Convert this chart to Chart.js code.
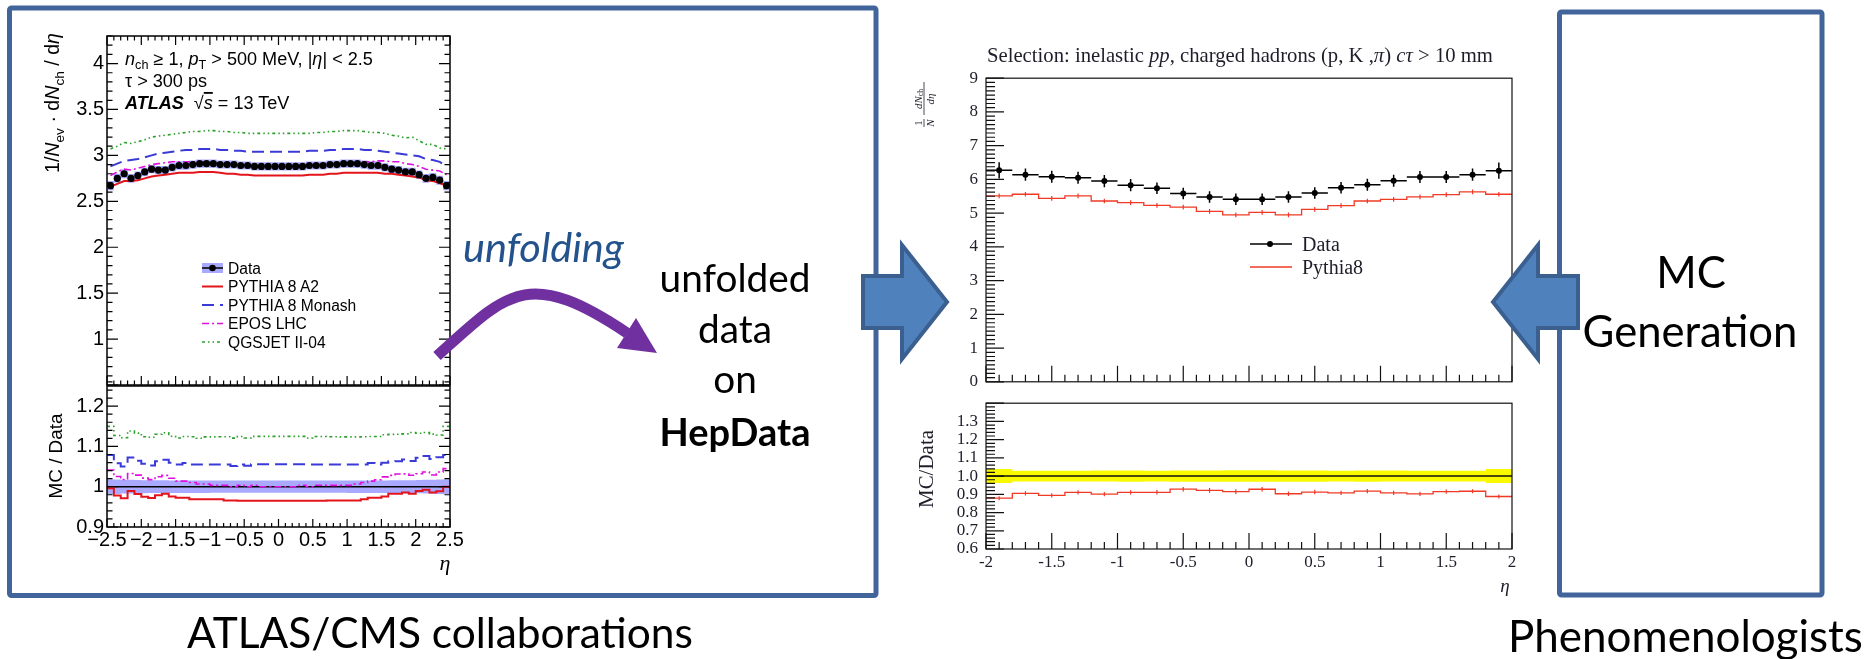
<!DOCTYPE html>
<html>
<head>
<meta charset="utf-8">
<title>Unfolded data and MC comparison</title>
<script src="https://cdn.jsdelivr.net/npm/chart.js@4.4.0/dist/chart.umd.min.js"></script>
<style>
  html, body { margin: 0; padding: 0; background: #fff; }
  body { width: 1870px; height: 659px; position: relative; overflow: hidden; }
  canvas { position: absolute; }
  #overlay { position: absolute; left: 0; top: 0; pointer-events: none; }
</style>
</head>
<body>
<canvas id="atlasTop" width="470" height="400" style="left:0px;top:0px"></canvas>
<canvas id="atlasRatio" width="470" height="190" style="left:0px;top:370px"></canvas>
<canvas id="rivetTop" width="640" height="340" style="left:900px;top:60px"></canvas>
<canvas id="rivetRatio" width="640" height="200" style="left:900px;top:385px"></canvas>

<svg id="overlay" width="1870" height="659" xmlns="http://www.w3.org/2000/svg">
  <!-- the two group boxes -->
  <g fill="none" stroke="#41659a" stroke-width="5">
    <rect x="9.5" y="8" width="866.5" height="587.5" rx="2"/>
    <rect x="1559.5" y="12" width="262.5" height="583" rx="2"/>
  </g>

  <!-- block arrows -->
  <g fill="#4f81bd" stroke="#3b6090" stroke-width="4">
    <polygon points="863,276 902,276 902,245 947,302 902,359 902,328 863,328"/>
    <polygon points="1493,302 1538,245 1538,276 1578,276 1578,328 1538,328 1538,359"/>
  </g>

  <!-- unfolding arrow -->
  <path d="M437,356 C507,293 527,266 627,333" stroke="#7030a0" stroke-width="11" fill="none"/>
  <polygon points="636,318 657,353 617,348" fill="#7030a0"/>

  <!-- slide text -->
  <g font-family="Lato, 'Open Sans', sans-serif" fill="#000">
    <text id="tUnfolding" x="463" y="262" font-size="36" font-style="italic" fill="#24528c">unfolding</text>
    <text id="tUnfolded" x="735" y="292" font-size="40" text-anchor="middle">unfolded</text>
    <text id="tData" x="735" y="343" font-size="40" text-anchor="middle">data</text>
    <text id="tOn" x="735" y="393" font-size="40" text-anchor="middle">on</text>
    <text id="tHep" x="735" y="446" font-size="40" text-anchor="middle" font-weight="bold">HepData</text>
    <text id="tMC" x="1691" y="288" font-size="44" text-anchor="middle">MC</text>
    <text id="tGen" x="1690" y="347" font-size="44" text-anchor="middle">Generation</text>
    <text id="tAtlasCms" x="187" y="648" font-size="44">ATLAS/CMS collaborations</text>
    <text id="tPheno" x="1508" y="652" font-size="44">Phenomenologists</text>
  </g>

  <!-- ATLAS panel labels -->
  <g font-family="'Liberation Sans', Arial, sans-serif" fill="#000">
    <text id="aLine1" x="125" y="65" font-size="18"><tspan font-style="italic">n</tspan><tspan font-size="70%" dy="0.35em">ch</tspan><tspan dy="-0.245em"> ≥ 1, </tspan><tspan font-style="italic">p</tspan><tspan font-size="70%" dy="0.35em">T</tspan><tspan dy="-0.245em"> &gt; 500 MeV, |</tspan><tspan font-style="italic">η</tspan>| &lt; 2.5</text>
    <text id="aLine2" x="125" y="87" font-size="18">τ &gt; 300 ps</text>
    <text id="aLine3" x="125" y="109" font-size="18"><tspan font-weight="bold" font-style="italic">ATLAS</tspan><tspan dx="0.55em">√</tspan><tspan font-style="italic" text-decoration="overline">s</tspan> = 13 TeV</text>
    <text id="aYTitle" transform="translate(59,103) rotate(-90)" text-anchor="middle" font-size="20">1/<tspan font-style="italic">N</tspan><tspan font-size="70%" dy="0.35em">ev</tspan><tspan dy="-0.245em"> · d</tspan><tspan font-style="italic">N</tspan><tspan font-size="70%" dy="0.35em">ch</tspan><tspan dy="-0.245em"> / d</tspan><tspan font-style="italic">η</tspan></text>
    <text id="aRTitle" transform="translate(62,456) rotate(-90)" text-anchor="middle" font-size="20">MC / Data</text>
    <g id="atlasLegend" font-size="15.6"></g>
  </g>
  <text x="445" y="570" font-family="'Liberation Serif', serif" font-style="italic" font-size="22" text-anchor="middle">η</text>

  <!-- Rivet panel labels -->
  <g font-family="'Liberation Serif', 'DejaVu Serif', serif" fill="#1e1e2a">
    <text id="rTitle" x="987" y="62" font-size="19">Selection: inelastic <tspan font-style="italic">pp</tspan>, charged hadrons (p, K ,<tspan font-style="italic">π</tspan>) <tspan font-style="italic">cτ</tspan> &gt; 10 mm</text>
    <g transform="translate(924,127) rotate(-90)" font-size="11">
      <text x="4" y="-2.5" text-anchor="middle">1</text>
      <line x1="0" y1="0" x2="8" y2="0" stroke="#1e1e2a" stroke-width="0.8"/>
      <text x="4" y="9.5" text-anchor="middle" font-style="italic">N</text>
      <text x="28" y="-2.5" text-anchor="middle"><tspan font-style="italic">dN</tspan><tspan font-size="70%" dy="1.5">ch</tspan></text>
      <line x1="12" y1="0" x2="45" y2="0" stroke="#1e1e2a" stroke-width="0.8"/>
      <text x="28" y="9.5" text-anchor="middle" font-style="italic">dη</text>
    </g>
    <text id="rRTitle" transform="translate(933,469) rotate(-90)" text-anchor="middle" font-size="19">MC/Data</text>
    <text x="1505" y="592" font-style="italic" font-size="19" text-anchor="middle">η</text>
    <g id="rivetLegend" font-size="20"></g>
  </g>
</svg>

<script>
// ATLAS 13 TeV charged-particle eta distribution, 0.1 wide bins
const etaEdgesAtlas = [-2.5, -2.4, -2.3, -2.2, -2.1, -2.0, -1.9, -1.8, -1.7, -1.6,
  -1.5, -1.4, -1.3, -1.2, -1.1, -1.0, -0.9, -0.8, -0.7, -0.6,
  -0.5, -0.4, -0.3, -0.2, -0.1, 0, 0.1, 0.2, 0.3, 0.4,
  0.5, 0.6, 0.7, 0.8, 0.9, 1.0, 1.1, 1.2, 1.3, 1.4,
  1.5, 1.6, 1.7, 1.8, 1.9, 2.0, 2.1, 2.2, 2.3, 2.4, 2.5];
const dataAtlas = [2.67, 2.75, 2.80, 2.75, 2.78, 2.82, 2.85, 2.84, 2.84, 2.87,
  2.89, 2.89, 2.90, 2.91, 2.91, 2.91, 2.90, 2.90, 2.90, 2.89,
  2.89, 2.88, 2.88, 2.88, 2.88, 2.88, 2.88, 2.88, 2.88, 2.89,
  2.89, 2.89, 2.90, 2.90, 2.91, 2.91, 2.91, 2.90, 2.89, 2.89,
  2.87, 2.85, 2.84, 2.82, 2.82, 2.79, 2.75, 2.76, 2.73, 2.67];
const dataErrAtlas = [0.050, 0.049, 0.048, 0.047, 0.046, 0.046, 0.045, 0.045, 0.045, 0.045,
  0.045, 0.045, 0.045, 0.045, 0.045, 0.044, 0.044, 0.044, 0.044, 0.044,
  0.044, 0.044, 0.044, 0.044, 0.044, 0.044, 0.044, 0.044, 0.044, 0.044,
  0.044, 0.044, 0.044, 0.044, 0.044, 0.045, 0.045, 0.045, 0.045, 0.045,
  0.045, 0.045, 0.045, 0.045, 0.046, 0.046, 0.047, 0.048, 0.049, 0.050];
const pythiaA2 = [2.66, 2.69, 2.72, 2.72, 2.73, 2.75, 2.77, 2.78, 2.79, 2.80,
  2.81, 2.81, 2.81, 2.82, 2.82, 2.82, 2.81, 2.80, 2.80, 2.79,
  2.79, 2.78, 2.78, 2.78, 2.78, 2.78, 2.78, 2.78, 2.78, 2.79,
  2.79, 2.79, 2.80, 2.80, 2.81, 2.81, 2.81, 2.81, 2.81, 2.81,
  2.80, 2.80, 2.79, 2.78, 2.77, 2.76, 2.73, 2.72, 2.70, 2.67];
const pythiaMonash = [2.88, 2.91, 2.94, 2.95, 2.96, 2.98, 3.00, 3.02, 3.03, 3.04,
  3.05, 3.06, 3.06, 3.07, 3.07, 3.07, 3.06, 3.06, 3.05, 3.05,
  3.04, 3.04, 3.04, 3.04, 3.04, 3.04, 3.04, 3.04, 3.04, 3.05,
  3.05, 3.05, 3.06, 3.06, 3.07, 3.07, 3.07, 3.06, 3.06, 3.05,
  3.04, 3.03, 3.02, 3.01, 3.00, 2.99, 2.96, 2.95, 2.93, 2.88];
const eposLhc = [2.78, 2.82, 2.85, 2.84, 2.86, 2.88, 2.90, 2.91, 2.92, 2.93,
  2.93, 2.93, 2.93, 2.93, 2.93, 2.92, 2.91, 2.91, 2.90, 2.90,
  2.89, 2.89, 2.88, 2.88, 2.88, 2.88, 2.88, 2.88, 2.89, 2.89,
  2.90, 2.90, 2.91, 2.91, 2.92, 2.92, 2.93, 2.93, 2.93, 2.94,
  2.94, 2.93, 2.93, 2.91, 2.90, 2.88, 2.85, 2.84, 2.83, 2.79];
const qgsjet = [3.07, 3.10, 3.14, 3.13, 3.15, 3.17, 3.20, 3.21, 3.22, 3.23,
  3.24, 3.25, 3.26, 3.26, 3.27, 3.27, 3.26, 3.26, 3.25, 3.25,
  3.24, 3.24, 3.24, 3.24, 3.24, 3.24, 3.24, 3.24, 3.24, 3.24,
  3.25, 3.25, 3.26, 3.26, 3.27, 3.27, 3.27, 3.26, 3.25, 3.25,
  3.24, 3.22, 3.21, 3.19, 3.20, 3.16, 3.12, 3.12, 3.08, 3.07];
const atlasTopTicks = [1, 1.5, 2, 2.5, 3, 3.5, 4];
const atlasRatioTicks = [0.9, 1, 1.1, 1.2];
const atlasEtaTicks = [-2.5, -2, -1.5, -1, -0.5, 0, 0.5, 1, 1.5, 2, 2.5];

// Rivet comparison, 0.2 wide bins
const etaEdgesRivet = [-2, -1.8, -1.6, -1.4, -1.2, -1, -0.8, -0.6, -0.4, -0.2, 0,
  0.2, 0.4, 0.6, 0.8, 1, 1.2, 1.4, 1.6, 1.8, 2];
const dataRivet = [6.27, 6.14, 6.08, 6.05, 5.95, 5.83, 5.74, 5.58, 5.48, 5.41,
  5.41, 5.48, 5.60, 5.75, 5.84, 5.96, 6.07, 6.07, 6.14, 6.26];
const dataErrRivet = [0.24, 0.18, 0.18, 0.18, 0.18, 0.18, 0.17, 0.17, 0.17, 0.17,
  0.17, 0.17, 0.17, 0.17, 0.18, 0.18, 0.18, 0.18, 0.18, 0.24];
const pythia8Rivet = [5.51, 5.56, 5.44, 5.51, 5.36, 5.31, 5.23, 5.18, 5.05, 4.95,
  5.02, 4.95, 5.11, 5.22, 5.36, 5.41, 5.48, 5.55, 5.63, 5.56];
const pythia8ErrRivet = [0.07, 0.07, 0.07, 0.07, 0.07, 0.07, 0.07, 0.07, 0.07, 0.07,
  0.07, 0.07, 0.07, 0.07, 0.07, 0.07, 0.07, 0.07, 0.07, 0.07];
const rivetTopTicks = [0, 1, 2, 3, 4, 5, 6, 7, 8, 9];
const rivetRatioTicks = [0.6, 0.7, 0.8, 0.9, 1.0, 1.1, 1.2, 1.3];
const rivetEtaTicks = [-2, -1.5, -1, -0.5, 0, 0.5, 1, 1.5, 2];

const atlasModels = [
  { label: 'PYTHIA 8 A2', values: pythiaA2, color: '#e3141b', dash: [], width: 2 },
  { label: 'PYTHIA 8 Monash', values: pythiaMonash, color: '#3a3ad8', dash: [12, 6], width: 2 },
  { label: 'EPOS LHC', values: eposLhc, color: '#e010e0', dash: [7, 3, 2, 3], width: 1.6 },
  { label: 'QGSJET II-04', values: qgsjet, color: '#2ca02c', dash: [3, 3, 1.5, 3, 1.5, 3], width: 1.6 }
];
const atlasBand = 'rgba(112, 112, 255, 0.6)';
const rivetRed = '#f03a24';

// helpers
const mids = edges => edges.slice(0, -1).map((e, i) => (e + edges[i + 1]) / 2);
const points = (xs, vals) => vals.map((v, i) => ({ x: xs[i], y: v }));
// histogram outline: each bin contributes its low and high edge at the bin value
const steps = (edges, vals) => vals.flatMap((v, i) => [{ x: edges[i], y: v }, { x: edges[i + 1], y: v }]);
const ratio = (a, b) => a.map((v, i) => v / b[i]);
const shift = (vals, errs, sign) => vals.map((v, i) => v + sign * errs[i]);
const ones = n => new Array(n).fill(1);

// box with inward ticks on chosen sides (ROOT / Rivet look)
const frameTicks = {
  id: 'frameTicks',
  afterDatasetsDraw(chart, args, o) {
    const { ctx, chartArea: a, scales } = chart;
    const marks = (scale, ax) => {
      const out = [];
      const n = Math.round((scale.max - scale.min) / ax.minor);
      for (let k = 0; k <= n; k++) {
        const v = scale.min + k * ax.minor;
        const major = Math.abs(v / ax.major - Math.round(v / ax.major)) < 1e-6;
        out.push([scale.getPixelForValue(v), major ? ax.len[0] : ax.len[1]]);
      }
      return out;
    };
    ctx.save();
    ctx.strokeStyle = o.color;
    ctx.lineWidth = o.width;
    ctx.strokeRect(a.left, a.top, a.right - a.left, a.bottom - a.top);
    ctx.lineWidth = o.tickWidth;
    ctx.beginPath();
    for (const [p, len] of marks(scales.x, o.x)) {
      if (o.x.sides.includes('top')) { ctx.moveTo(p, a.top); ctx.lineTo(p, a.top + len); }
      if (o.x.sides.includes('bottom')) { ctx.moveTo(p, a.bottom); ctx.lineTo(p, a.bottom - len); }
    }
    for (const [p, len] of marks(scales.y, o.y)) {
      if (o.y.sides.includes('left')) { ctx.moveTo(a.left, p); ctx.lineTo(a.left + len, p); }
      if (o.y.sides.includes('right')) { ctx.moveTo(a.right, p); ctx.lineTo(a.right - len, p); }
    }
    ctx.stroke();
    ctx.restore();
  }
};

// vertical (and optional bin-width) error bars stored on a dataset
const errorBars = {
  id: 'errorBars',
  afterDatasetDraw(chart, args) {
    const ds = chart.data.datasets[args.index];
    if (!ds.bars) return;
    const { ctx, scales: { x, y } } = chart;
    ctx.save();
    ctx.strokeStyle = ds.barColor;
    ctx.lineWidth = ds.barWidth;
    ctx.beginPath();
    ds.bars.forEach(b => {
      const px = x.getPixelForValue(b.x), py = y.getPixelForValue(b.y);
      if (b.lo !== undefined) {
        ctx.moveTo(x.getPixelForValue(b.lo), py);
        ctx.lineTo(x.getPixelForValue(b.hi), py);
      }
      ctx.moveTo(px, y.getPixelForValue(b.y - b.e));
      ctx.lineTo(px, y.getPixelForValue(b.y + b.e));
    });
    ctx.stroke();
    ctx.restore();
  }
};

function yAxis(o) {
  return {
    type: 'linear', min: o.min, max: o.max,
    grid: { display: false, drawTicks: false },
    border: { display: false },
    ticks: { font: o.font, color: o.color, padding: o.pad, autoSkip: false, callback: o.fmt },
    afterBuildTicks: s => { s.ticks = o.ticks.map(v => ({ value: v })); },
    afterFit: s => { s.width = o.width; }
  };
}

function xAxis(o) {
  if (!o.ticks) return { type: 'linear', min: o.min, max: o.max, display: false };
  return {
    type: 'linear', min: o.min, max: o.max,
    grid: { display: false, drawTicks: false },
    border: { display: false },
    ticks: { font: o.font, color: o.color, padding: o.pad, autoSkip: false,
      maxRotation: 0, minRotation: 0, callback: o.fmt },
    afterBuildTicks: s => { s.ticks = o.ticks.map(v => ({ value: v })); },
    afterFit: s => { s.height = o.height; }
  };
}

function panel(id, datasets, padding, x, y, frame) {
  return new Chart(document.getElementById(id), {
    type: 'line',
    data: { datasets },
    options: {
      responsive: false, animation: false, devicePixelRatio: 1,
      layout: { padding },
      elements: { point: { radius: 0 }, line: { tension: 0 } },
      plugins: { legend: { display: false }, tooltip: { enabled: false }, frameTicks: frame },
      scales: { x: xAxis(x), y: yAxis(y) }
    },
    plugins: [frameTicks, errorBars]
  });
}

const atlasFont = { family: "'Liberation Sans', Arial, sans-serif", size: 20 };
const rivetFont = { family: "'Liberation Serif', 'DejaVu Serif', serif", size: 17 };
const minusFmt = v => (v < 0 ? '\u2212' + (-v) : String(v));

// ---- ATLAS top panel
const centersAtlas = mids(etaEdgesAtlas);
panel('atlasTop', [
  { data: points(centersAtlas, dataAtlas), showLine: false, pointRadius: 3.6,
    pointBackgroundColor: '#000', pointBorderWidth: 0, order: 0 },
  ...atlasModels.map(m => ({ data: points(centersAtlas, m.values), borderColor: m.color,
    borderWidth: m.width, borderDash: m.dash, order: 5 })),
  { data: steps(etaEdgesAtlas, shift(dataAtlas, dataErrAtlas, -1)), borderWidth: 0, order: 10 },
  { data: steps(etaEdgesAtlas, shift(dataAtlas, dataErrAtlas, 1)), borderWidth: 0,
    fill: '-1', backgroundColor: atlasBand, order: 10 }
], { left: 0, top: 36, right: 20, bottom: 14 },
  { min: -2.5, max: 2.5 },
  { min: 0.5, max: 4.3, ticks: atlasTopTicks, font: atlasFont, color: '#000', pad: 3, width: 107, fmt: v => String(v) },
  { color: '#000', width: 1.5, tickWidth: 1.2,
    x: { major: 0.5, minor: 0.1, len: [9, 4.5], sides: ['top', 'bottom'] },
    y: { major: 0.5, minor: 0.1, len: [11, 5.5], sides: ['left', 'right'] } });

// ---- ATLAS ratio panel
const relErrAtlas = dataErrAtlas.map((e, i) => e / dataAtlas[i]);
panel('atlasRatio', [
  ...atlasModels.map(m => ({ data: steps(etaEdgesAtlas, ratio(m.values, dataAtlas)),
    borderColor: m.color, borderWidth: m.width, borderDash: m.dash, order: 2 })),
  { data: [{ x: -2.5, y: 1 }, { x: 2.5, y: 1 }], borderColor: '#000', borderWidth: 1.5, order: 4 },
  { data: steps(etaEdgesAtlas, shift(ones(50), relErrAtlas, -1)), borderWidth: 0, order: 10 },
  { data: steps(etaEdgesAtlas, shift(ones(50), relErrAtlas, 1)), borderWidth: 0,
    fill: '-1', backgroundColor: atlasBand, order: 10 }
], { left: 0, top: 16, right: 20, bottom: 0 },
  { min: -2.5, max: 2.5, ticks: atlasEtaTicks, font: atlasFont, color: '#000', pad: 1, height: 33, fmt: minusFmt },
  { min: 0.9, max: 1.25, ticks: atlasRatioTicks, font: atlasFont, color: '#000', pad: 3, width: 107, fmt: v => String(v) },
  { color: '#000', width: 1.5, tickWidth: 1.2,
    x: { major: 0.5, minor: 0.1, len: [8, 4], sides: ['bottom'] },
    y: { major: 0.1, minor: 0.02, len: [11, 5.5], sides: ['left', 'right'] } });

// ---- Rivet top panel
const centersRivet = mids(etaEdgesRivet);
panel('rivetTop', [
  { data: points(centersRivet, dataRivet), showLine: false, pointRadius: 3,
    pointBackgroundColor: '#000', pointBorderWidth: 0, order: 0,
    bars: centersRivet.map((c, i) => ({ x: c, y: dataRivet[i], e: dataErrRivet[i],
      lo: etaEdgesRivet[i], hi: etaEdgesRivet[i + 1] })), barColor: '#000', barWidth: 1.5 },
  { data: steps(etaEdgesRivet, pythia8Rivet), borderColor: rivetRed, borderWidth: 1.3, order: 2,
    bars: centersRivet.map((c, i) => ({ x: c, y: pythia8Rivet[i], e: pythia8ErrRivet[i] })),
    barColor: rivetRed, barWidth: 1.2 }
], { left: 0, top: 17, right: 28, bottom: 9 },
  { min: -2, max: 2 },
  { min: 0, max: 9, ticks: rivetTopTicks, font: rivetFont, color: '#1e1e2a', pad: 8, width: 86, fmt: v => String(v) },
  { color: '#111', width: 1.2, tickWidth: 1.2,
    x: { major: 0.5, minor: 0.1, len: [16, 7], sides: ['bottom'] },
    y: { major: 1, minor: 0.125, len: [18, 9], sides: ['left'] } });

// ---- Rivet ratio panel
const relErrRivet = dataErrRivet.map((e, i) => e / dataRivet[i]);
const pythia8Ratio = ratio(pythia8Rivet, dataRivet);
panel('rivetRatio', [
  { data: steps(etaEdgesRivet, pythia8Ratio), borderColor: rivetRed, borderWidth: 1.3, order: 1,
    bars: centersRivet.map((c, i) => ({ x: c, y: pythia8Ratio[i], e: pythia8ErrRivet[i] / dataRivet[i] })),
    barColor: rivetRed, barWidth: 1.2 },
  { data: [{ x: -2, y: 1 }, { x: 2, y: 1 }], borderColor: '#111', borderWidth: 1.5, order: 3 },
  { data: steps(etaEdgesRivet, shift(ones(20), relErrRivet, -1)), borderWidth: 0, order: 10 },
  { data: steps(etaEdgesRivet, shift(ones(20), relErrRivet, 1)), borderWidth: 0,
    fill: '-1', backgroundColor: '#f9f900', order: 10 }
], { left: 0, top: 6, right: 28, bottom: 0 },
  { min: -2, max: 2, ticks: rivetEtaTicks, font: rivetFont, color: '#1e1e2a', pad: 3, height: 36, fmt: v => String(v) },
  { min: 0.6, max: 1.4, ticks: rivetRatioTicks, font: rivetFont, color: '#1e1e2a', pad: 8, width: 86, fmt: v => v.toFixed(1) },
  { color: '#111', width: 1.2, tickWidth: 1.2,
    x: { major: 0.5, minor: 0.1, len: [16, 7], sides: ['bottom'] },
    y: { major: 0.1, minor: 0.02, len: [18, 9], sides: ['left'] } });

// ---- legends
const svgNS = 'http://www.w3.org/2000/svg';
function svgEl(tag, attrs, parent, text) {
  const el = document.createElementNS(svgNS, tag);
  for (const k in attrs) el.setAttribute(k, attrs[k]);
  if (text) el.textContent = text;
  parent.appendChild(el);
  return el;
}

const atlasLeg = document.getElementById('atlasLegend');
const legTop = 268, legStep = 18.5;
svgEl('rect', { x: 202, y: legTop - 5, width: 21, height: 10, fill: atlasBand }, atlasLeg);
svgEl('line', { x1: 202, x2: 223, y1: legTop, y2: legTop, stroke: '#000', 'stroke-width': 1.5 }, atlasLeg);
svgEl('circle', { cx: 212.5, cy: legTop, r: 3.3, fill: '#000' }, atlasLeg);
svgEl('text', { x: 228, y: legTop + 5.6 }, atlasLeg, 'Data');
atlasModels.forEach((m, i) => {
  const y = legTop + (i + 1) * legStep;
  svgEl('line', { x1: 202, x2: 223, y1: y, y2: y, stroke: m.color, 'stroke-width': m.width,
    'stroke-dasharray': m.dash.length ? m.dash.join(' ') : 'none' }, atlasLeg);
  svgEl('text', { x: 228, y: y + 5.6 }, atlasLeg, m.label);
});

const rivetLeg = document.getElementById('rivetLegend');
svgEl('line', { x1: 1250, x2: 1292, y1: 244, y2: 244, stroke: '#000', 'stroke-width': 1.5 }, rivetLeg);
svgEl('circle', { cx: 1270, cy: 244, r: 3, fill: '#000' }, rivetLeg);
svgEl('text', { x: 1302, y: 250.5 }, rivetLeg, 'Data');
svgEl('line', { x1: 1250, x2: 1292, y1: 267, y2: 267, stroke: rivetRed, 'stroke-width': 1.5 }, rivetLeg);
svgEl('text', { x: 1302, y: 273.5 }, rivetLeg, 'Pythia8');

// ---- size text runs to their widths
function fit(id, width) {
  const el = document.getElementById(id);
  const fs = parseFloat(el.getAttribute('font-size'));
  const size = fs * width / el.getComputedTextLength();
  el.setAttribute('font-size', size.toFixed(2));
  return size;
}
const setSize = (ids, size) => ids.forEach(id => document.getElementById(id).setAttribute('font-size', size.toFixed(2)));

fit('tUnfolding', 161);
setSize(['tData', 'tOn'], fit('tUnfolded', 151));
fit('tHep', 151);
setSize(['tMC'], fit('tGen', 215));
fit('tAtlasCms', 506);
fit('tPheno', 355);
setSize(['aLine2', 'aLine3'], fit('aLine1', 248));
fit('aYTitle', 140);
fit('aRTitle', 85);
fit('rTitle', 506);
fit('rRTitle', 78);
</script>
</body>
</html>
